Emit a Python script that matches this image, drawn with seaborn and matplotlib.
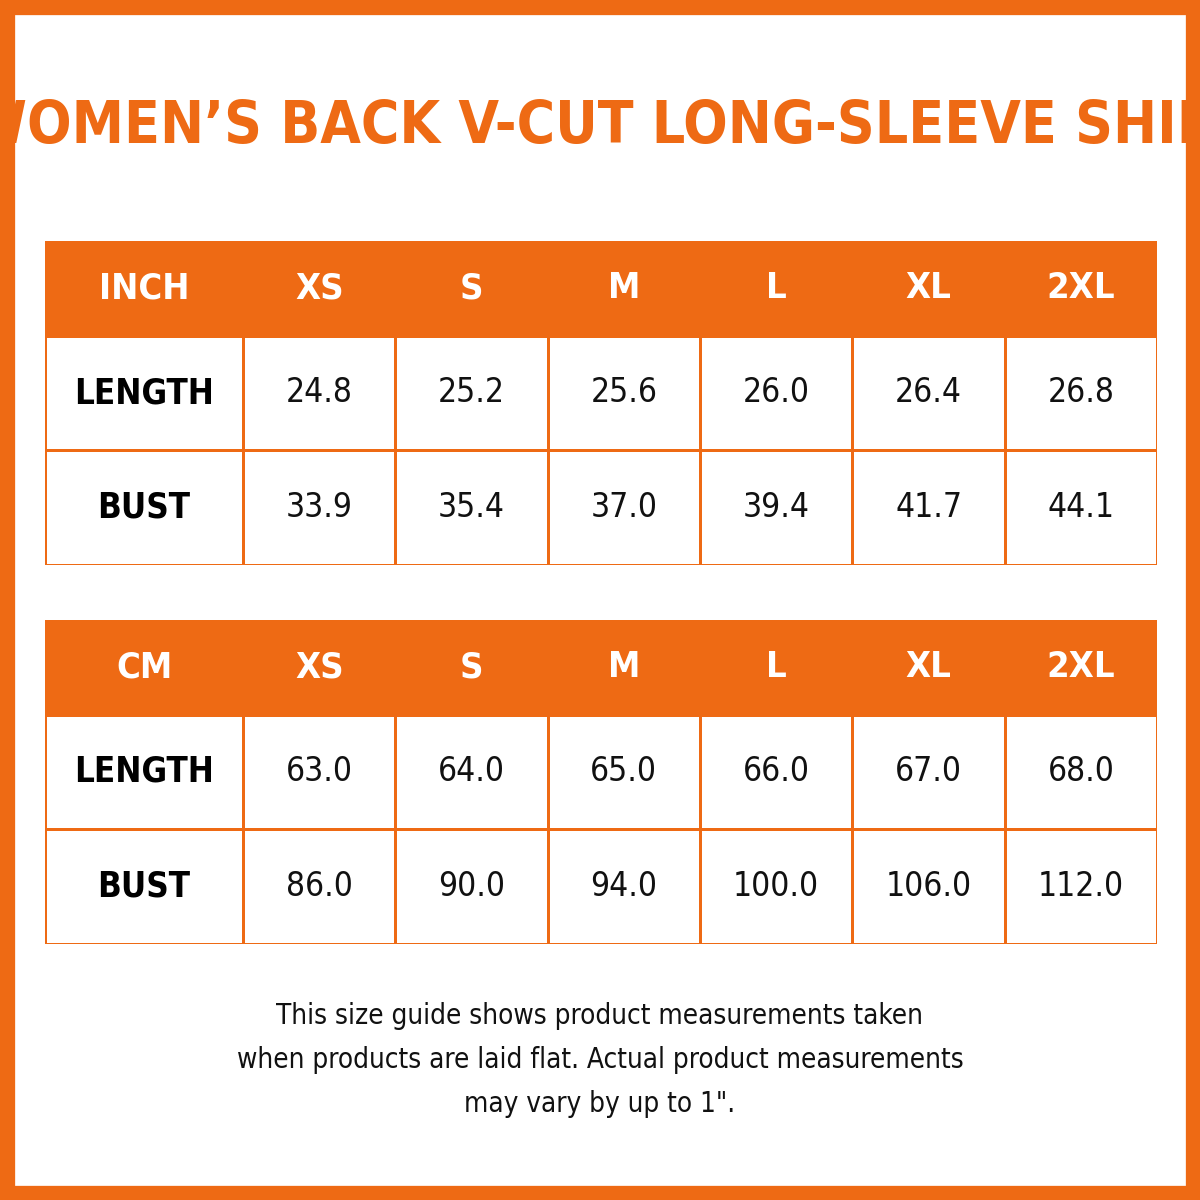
import numpy as np
import matplotlib.pyplot as plt
import seaborn as sns
from matplotlib.colors import ListedColormap
from matplotlib.patches import Rectangle

sns.set_theme(style="white")
plt.rcParams['font.family'] = ['DejaVu Sans']

ORANGE = '#EE6A14'

title = "WOMEN’S BACK V-CUT LONG-SLEEVE SHIRT"
sizes = ['XS', 'S', 'M', 'L', 'XL', '2XL']
rows = ['LENGTH', 'BUST']
inch_length = [24.8, 25.2, 25.6, 26.0, 26.4, 26.8]
inch_bust = [33.9, 35.4, 37.0, 39.4, 41.7, 44.1]
cm_length = [63.0, 64.0, 65.0, 66.0, 67.0, 68.0]
cm_bust = [86.0, 90.0, 94.0, 100.0, 106.0, 112.0]
note = ("This size guide shows product measurements taken\n"
        "when products are laid flat. Actual product measurements\n"
        "may vary by up to 1\".")

COND = ['DejaVu Sans Condensed', 'DejaVu Sans']

fig = plt.figure(figsize=(12, 12), dpi=100)
fig.patch.set_facecolor('white')
fig.patches.append(Rectangle((0.006, 0.006), 0.988, 0.988, transform=fig.transFigure,
                             fill=False, edgecolor=ORANGE, linewidth=11))

fig.text(0.508, 0.895, title, ha='center', va='center', fontsize=42,
         fontweight='bold', fontstretch='condensed', color=ORANGE, family=COND)


def draw_table(rect, unit, length, bust):
    ax = fig.add_axes(rect)
    col_w = [198] + [152.3] * 6
    xe = np.concatenate([[0], np.cumsum(col_w)])
    ye = np.array([0, 95, 209, 324])
    C = np.zeros((3, 7))
    C[0, :] = 1
    ax.pcolormesh(xe, ye, C, cmap=ListedColormap(['white', ORANGE]),
                  edgecolors=ORANGE, linewidth=2)
    ax.set_xlim(xe[0], xe[-1])
    ax.set_ylim(ye[-1], ye[0])
    ax.axis('off')
    xc = (xe[:-1] + xe[1:]) / 2
    yc = (ye[:-1] + ye[1:]) / 2
    hdr = [unit] + sizes
    for j, t in enumerate(hdr):
        ax.text(xc[j], yc[0], t, ha='center', va='center', color='white',
                fontsize=26, fontweight='bold', fontstretch='condensed', family=COND)
    for i, (name, vals) in enumerate(zip(rows, [length, bust])):
        ax.text(xc[0], yc[i + 1], name, ha='center', va='center', color='black',
                fontsize=25, fontweight='bold', fontstretch='condensed', family=COND)
        for j, v in enumerate(vals):
            ax.text(xc[j + 1], yc[i + 1], f'{v:.1f}', ha='center', va='center',
                    color='#111111', fontsize=24, fontstretch='condensed', family=COND)


draw_table([45 / 1200, 1 - 565 / 1200, 1112 / 1200, 324 / 1200], 'INCH', inch_length, inch_bust)
draw_table([45 / 1200, 1 - 944 / 1200, 1112 / 1200, 324 / 1200], 'CM', cm_length, cm_bust)

fig.text(0.5, 1 - 1060 / 1200, note, ha='center', va='center', fontsize=20,
         color='#111111', linespacing=1.75, fontstretch='condensed', family=COND)

fig.savefig('out.png', dpi=100)
